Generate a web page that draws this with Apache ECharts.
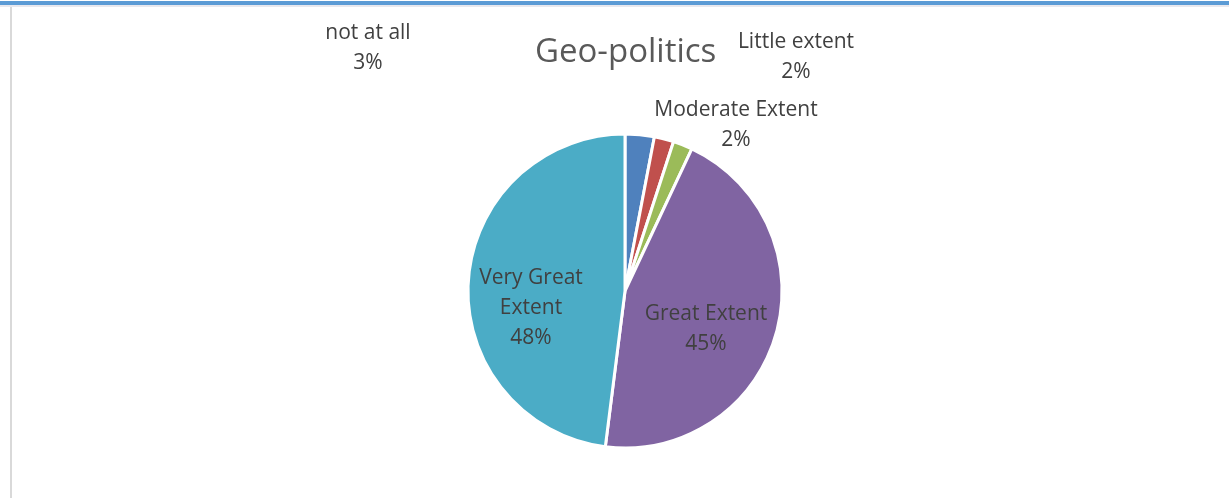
<!DOCTYPE html>
<html>
<head>
<meta charset="utf-8">
<script src="https://cdn.jsdelivr.net/npm/echarts@6/dist/echarts.min.js"></script>
<style>
html,body{margin:0;padding:0;background:#fff;}
#topbar{position:absolute;left:0;top:1px;width:1229px;height:4px;background:#5b9bd5;}
#topline{position:absolute;left:0;top:5px;width:1229px;height:2px;background:#e8e8ee;}
#leftline{position:absolute;left:10px;top:7px;width:2px;height:491px;background:#d9d9d9;}
#chart{position:absolute;left:0;top:0;width:1229px;height:498px;}
</style>
</head>
<body>
<div id="topbar"></div><div id="topline"></div><div id="leftline"></div>
<div id="chart"></div>
<script>
const titleText = 'Geo-politics';
const categories = ['not at all', 'Little extent', 'Moderate Extent', 'Great Extent', 'Very Great Extent'];
const values = [3, 2, 2, 45, 48];
const colors = ['#4f81bd', '#c0504d', '#9bbb59', '#8064a2', '#4bacc6'];
const labelTexts = ['not at all\n3%', 'Little extent\n2%', 'Moderate Extent\n2%', 'Great Extent\n45%', 'Very Great\nExtent\n48%'];

const FONT = 'Open Sans';
const chart = echarts.init(document.getElementById('chart'), null, {renderer: 'canvas'});

// custom label anchor positions (label centers), like the hand-placed labels of the reference
const labelPos = [[368, 48], [796, 57], [736, 125], [706, 329], [531, 308]];

const data = categories.map((c, i) => ({
  name: c,
  value: values[i],
  itemStyle: {color: colors[i]},
  label: {formatter: labelTexts[i]}
}));

chart.setOption({
  animation: false,
  backgroundColor: 'transparent',
  title: {
    text: titleText,
    left: 530,
    top: 31,
    textStyle: {fontFamily: FONT, fontSize: 33, fontWeight: 'normal', color: '#595959'}
  },
  series: [{
    type: 'pie',
    center: [625, 291],
    radius: 157,
    startAngle: 90,
    clockwise: true,
    data: data,
    itemStyle: {borderColor: '#fff', borderWidth: 3},
    label: {
      show: true,
      position: 'inside',
      fontFamily: FONT,
      fontSize: 21,
      lineHeight: 30,
      color: '#404040',
      align: 'center'
    },
    labelLine: {show: false},
    labelLayout: function (params) {
      const p = labelPos[params.dataIndex];
      return {x: p[0], y: p[1], align: 'center', verticalAlign: 'middle'};
    }
  }]
});
</script>
</body>
</html>
